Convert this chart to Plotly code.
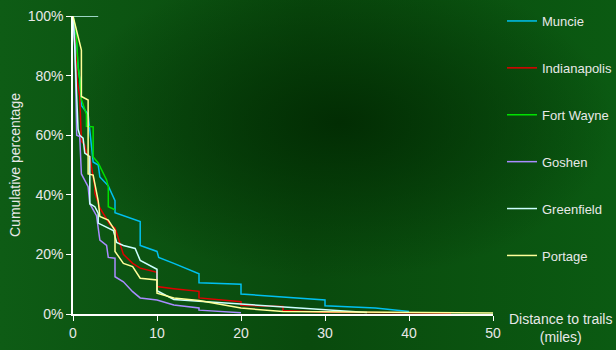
import base64
import plotly.graph_objects as go

# ---- data ----
series_names = ["Muncie", "Indianapolis", "Fort Wayne", "Goshen", "Greenfield", "Portage"]

muncie_x = [0, 0.3, 0.6, 0.8, 1.0, 1.8, 2.4, 3.0, 3.2, 4.2, 5.0, 5.0, 8.0, 8.0, 10.0, 10.2, 12.0, 15.0, 15.0, 20.0, 20.0, 30.0, 30.0, 36.0, 40.0]
muncie_y = [100, 95, 83, 79, 70, 67, 51, 50, 46, 43, 38, 34, 31, 23, 21, 19, 17, 13.5, 10.5, 10, 6.7, 4.7, 2.8, 2.0, 0.8]

indy_x = [0, 0.3, 0.5, 0.8, 1.0, 1.4, 1.6, 2.0, 2.6, 2.6, 3.2, 4.4, 5.0, 6.0, 7.1, 8.0, 10.0, 10.0, 12.0, 15.0, 15.0, 20.0, 20.0, 25.0, 25.0, 30.0, 45.0]
indy_y = [100, 90, 78, 73, 58, 56.7, 54, 52.8, 42.7, 40.6, 35.6, 30, 28.9, 20, 17, 15.4, 14, 9.2, 8.5, 7.6, 5.4, 4.1, 2.9, 2.5, 1.2, 0.6, 0.3]

fortwayne_x = [0, 0.4, 0.6, 0.8, 1.0, 1.6, 1.6, 2.0, 2.4, 2.4, 3.0, 4.0, 4.2, 4.2, 5.0]
fortwayne_y = [100, 94, 83, 79, 72, 67, 63, 62.9, 62.8, 52.7, 50.7, 45, 42.7, 36, 35]

goshen_x = [0, 0.24, 0.44, 0.8, 1.0, 1.8, 2.0, 2.8, 3.2, 4.0, 4.2, 5.0, 5.0, 6.0, 7.1, 8.0, 10.0, 12.0, 15.0, 15.0, 20.0]
goshen_y = [100, 89.7, 60, 59.5, 47, 42.7, 37, 33, 24.8, 23, 19, 18.7, 12.5, 10.8, 7.5, 5.4, 4.7, 3, 2, 1.3, 0.4]

greenfield_x = [3.0, 0, 0.2, 0.6, 0.8, 1.2, 1.4, 2.0, 2.0, 2.6, 3.0, 3.0, 4.8, 5.2, 6.0, 7.4, 8.0, 10.0, 10.0, 12.0, 15.0, 20.0, 30.0, 35.0]
greenfield_y = [100, 100, 90, 62, 60, 59, 54, 52.8, 37, 36, 33.8, 30.5, 28, 24, 23, 22, 18, 15, 7.8, 4.9, 4.3, 3.3, 1.3, 0.5]

portage_x = [0, 0.45, 1.0, 1.0, 1.8, 1.8, 2.4, 3.0, 3.2, 4.2, 5.0, 5.0, 6.0, 7.1, 8.0, 10.0, 10.0, 12.0, 15.0, 20.0, 25.0, 50.0]
portage_y = [100, 95, 88.6, 73, 71.8, 47, 46.6, 38, 32.7, 31.5, 28, 21, 17, 15.9, 12, 11.4, 7, 5.4, 4.5, 2, 0.8, 0.3]

x_ticks = [0, 10, 20, 30, 40, 50]
y_ticks = [0, 20, 40, 60, 80, 100]
y_tick_labels = ["0%", "20%", "40%", "60%", "80%", "100%"]

xs = [muncie_x, indy_x, fortwayne_x, goshen_x, greenfield_x, portage_x]
ys = [muncie_y, indy_y, fortwayne_y, goshen_y, greenfield_y, portage_y]
colors = ["#00c0f0", "#e00000", "#00e000", "#a98cff", "#ccffff", "#ffff99"]

FONT = "Arial, Liberation Sans, sans-serif"
TXT = "#e8e8e8"

fig = go.Figure()
for i, name in enumerate(series_names):
    fig.add_trace(go.Scatter(
        x=xs[i], y=ys[i], mode="lines", name=name,
        line=dict(color=colors[i], width=1.5),
        legendgroup=name,
    ))

# background (gradient imitation of the green texture)
W, H = 616, 350
L, R, T, B = 73, 123, 16, 36
pw, ph = W - L - R, H - T - B
svg = (
    "<svg xmlns='http://www.w3.org/2000/svg' width='616' height='350'>"
    "<defs>"
    "<radialGradient id='g' cx='0.55' cy='0.35' r='0.45'>"
    "<stop offset='0' stop-color='#022d03' stop-opacity='1'/>"
    "<stop offset='1' stop-color='#022d03' stop-opacity='0'/>"
    "</radialGradient>"
    "<linearGradient id='h' x1='0' y1='0' x2='1' y2='0'>"
    "<stop offset='0' stop-color='#0e5c15'/>"
    "<stop offset='0.5' stop-color='#094a0d'/>"
    "<stop offset='1' stop-color='#0b5a12'/>"
    "</linearGradient>"
    "</defs>"
    "<rect width='616' height='350' fill='url(#h)'/>"
    "<rect width='616' height='350' fill='url(#g)'/>"
    "</svg>"
)
src = "data:image/svg+xml;base64," + base64.b64encode(svg.encode()).decode()
fig.add_layout_image(dict(
    source=src, xref="paper", yref="paper",
    x=-L / pw, y=1 + T / ph, sizex=W / pw, sizey=H / ph,
    xanchor="left", yanchor="top", sizing="stretch", layer="below",
))

fig.update_layout(
    width=W, height=H,
    margin=dict(l=L, r=R, t=T, b=B, pad=0, autoexpand=False),
    paper_bgcolor="#0b5a12",
    plot_bgcolor="rgba(0,0,0,0)",
    font=dict(family=FONT, color=TXT, size=14),
    showlegend=True,
    legend=dict(
        x=(502 - L) / pw, y=1 + 10 / ph, xanchor="left", yanchor="top",
        bgcolor="rgba(0,0,0,0)", font=dict(size=13, color=TXT, family=FONT),
        tracegroupgap=27, itemwidth=30, maxheight=345,
    ),
    xaxis=dict(
        range=[0, 50], tickvals=x_ticks, ticks="outside", ticklen=5,
        tickcolor="white", showline=True, linecolor="white", linewidth=1.5,
        showgrid=False, zeroline=False, tickfont=dict(size=14, color=TXT),
        automargin=False,
    ),
    yaxis=dict(
        range=[0, 100], tickvals=y_ticks, ticktext=y_tick_labels, ticks="outside",
        ticklen=5, tickcolor="white", showline=True, linecolor="white", linewidth=1.5,
        showgrid=False, zeroline=False, tickfont=dict(size=14, color=TXT),
        automargin=False,
    ),
    annotations=[
        dict(text="Cumulative percentage", textangle=-90, xref="paper", yref="paper",
             x=(15 - L) / pw, y=(H - B - 165) / ph, xanchor="center", yanchor="middle",
             showarrow=False, font=dict(size=14, color=TXT)),
        dict(text="Distance to trails<br>(miles)", xref="paper", yref="paper",
             x=(560 - L) / pw, y=(H - B - 328) / ph, xanchor="center", yanchor="middle",
             showarrow=False, font=dict(size=14, color=TXT)),
    ],
)

fig.write_html(
    "out.html",
    config={"displayModeBar": False},
    post_script="document.body.style.margin='0';document.body.style.background='#0b5a12';",
)
